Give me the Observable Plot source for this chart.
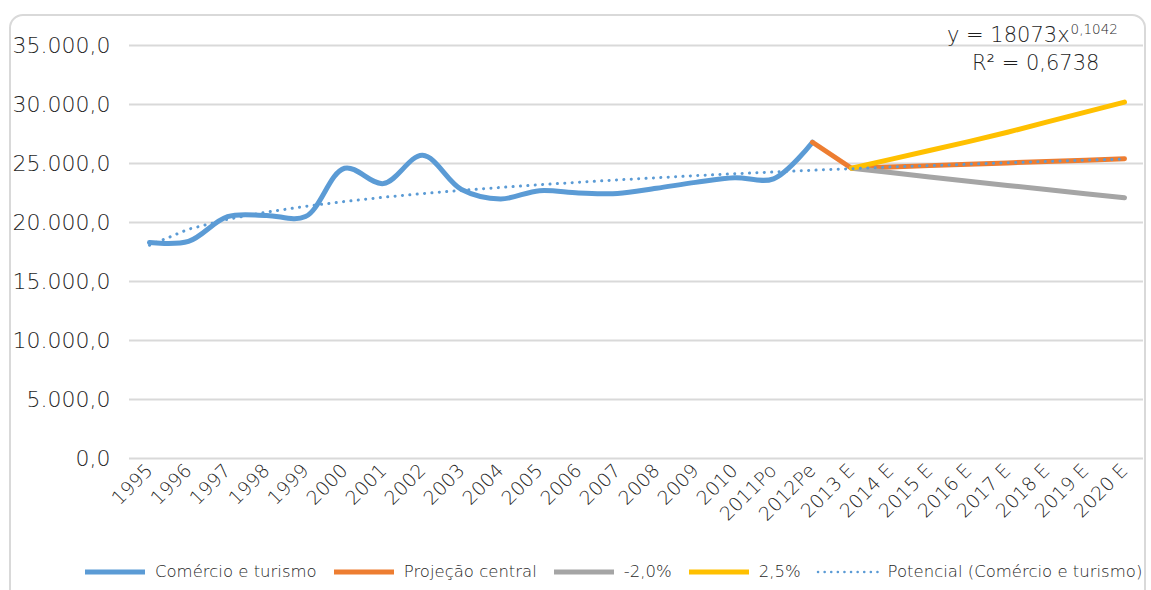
<!DOCTYPE html>
<html><head><meta charset="utf-8">
<script src="https://cdn.jsdelivr.net/npm/d3@7"></script>
<script src="https://cdn.jsdelivr.net/npm/@observablehq/plot@0.6"></script>
<style>
html,body{margin:0;padding:0;background:#fff;}
#wrap{position:relative;width:1151px;height:590px;overflow:hidden;font-family:"DejaVu Sans",sans-serif;font-weight:200;color:#1f1f1f;}
#frame{position:absolute;left:9px;top:14px;width:1137px;height:620px;border:2px solid #d9d9d9;border-radius:14px;box-sizing:border-box;}
#chart{position:absolute;left:0;top:0;}
#eq{position:absolute;left:947px;top:22px;font-size:21px;line-height:26px;}
#eq sup{font-size:13.5px;vertical-align:8px;line-height:0;margin-left:1px;}
#r2{position:absolute;left:972px;top:50px;font-size:21px;line-height:26px;}
#legend{position:absolute;left:82px;top:562px;display:flex;align-items:center;font-size:16.5px;white-space:nowrap;}
#legend .it{display:flex;align-items:center;margin-right:14px;}
#legend svg{margin-right:7px;}
</style></head>
<body><div id="wrap"><div id="frame"></div><div id="chart"></div>
<div id="eq">y = 18073x<sup>0,1042</sup></div>
<div id="r2">R² = 0,6738</div>
<div id="legend"></div></div>
<script>
const categories = ["1995","1996","1997","1998","1999","2000","2001","2002","2003","2004","2005","2006","2007","2008","2009","2010","2011Po","2012Pe","2013 E","2014 E","2015 E","2016 E","2017 E","2018 E","2019 E","2020 E"];
// Comércio e turismo: 1995 .. 2012Pe
const comercio = [18300,18400,20500,20600,20500,24600,23300,25700,22800,22000,22700,22500,22450,22900,23400,23800,23700,26800];
// Projeção central: 2012Pe .. 2020 E
const central = [26800,24600,24710,24820,24940,25050,25170,25280,25400];
// -2,0%: 2013 E .. 2020 E
const minus20 = [24600,24230,23860,23500,23140,22790,22440,22100];
// 2,5%: 2013 E .. 2020 E
const plus25 = [24600,25350,26100,26850,27650,28500,29350,30200];
// Potencial (Comércio e turismo): 1995 .. 2020 E
const potencial = [18070,19430,20270,20880,21370,21780,22140,22450,22720,22970,23200,23410,23610,23790,23970,24130,24280,24430,24560,24700,24820,24940,25060,25170,25280,25380];
const yTicks = [0,5000,10000,15000,20000,25000,30000,35000];
const seriesNames = ["Comércio e turismo","Projeção central","-2,0%","2,5%","Potencial (Comércio e turismo)"];
const colors = ["#5b9bd5","#ed7d31","#a5a5a5","#ffc000","#5b9bd5"];

const rows = (vals, start) => vals.map((v,i)=>({cat:categories[start+i], value:v}));
const dComercio = rows(comercio,0);
const dCentral = rows(central,17);
const dMinus = rows(minus20,18);
const dPlus = rows(plus25,18);
const dPot = rows(potencial,0);

const loc = d3.formatLocale({decimal:",",thousands:".",grouping:[3],currency:["",""]});
const fmt = loc.format(",.1f");

const chart = Plot.plot({
  width:1151, height:545,
  marginLeft:129, marginRight:8, marginTop:45, marginBottom:87,
  style:{fontFamily:"DejaVu Sans", fontWeight:200, color:"#1f1f1f", background:"transparent"},
  x:{type:"point", domain:categories, padding:0.5, label:null},
  y:{domain:[0,35000], label:null},
  marks:[
    Plot.gridY(yTicks,{stroke:"#d9d9d9", strokeOpacity:1, strokeWidth:2}),
    Plot.axisY({ticks:yTicks, tickFormat:fmt, tickSize:0, tickPadding:19, fontSize:22, label:null}),
    Plot.axisX({tickSize:0, tickRotate:-45, tickPadding:9, fontSize:19, label:null}),
    Plot.line(dComercio,{x:"cat", y:"value", stroke:colors[0], strokeWidth:5, curve:"catmull-rom"}),
    Plot.line(dCentral,{x:"cat", y:"value", stroke:colors[1], strokeWidth:5}),
    Plot.line(dMinus,{x:"cat", y:"value", stroke:colors[2], strokeWidth:5}),
    Plot.line(dPlus,{x:"cat", y:"value", stroke:colors[3], strokeWidth:5}),
    Plot.line(dPot,{x:"cat", y:"value", stroke:colors[4], strokeWidth:3, strokeDasharray:"0.1 7.3", strokeLinecap:"round"})
  ]
});
document.getElementById("chart").appendChild(chart);

const lg = document.getElementById("legend");
seriesNames.forEach((n,i)=>{
  const it = document.createElement("div"); it.className="it";
  const dotted = i===4;
  it.innerHTML = `<svg width="66" height="10"><line x1="3" x2="63" y1="5" y2="5" stroke="${colors[i]}" stroke-width="${dotted?2.5:5}" ${dotted?'stroke-dasharray="0.1 6.5" stroke-linecap="round"':''}/></svg><span>${n}</span>`;
  lg.appendChild(it);
});
</script></body></html>
